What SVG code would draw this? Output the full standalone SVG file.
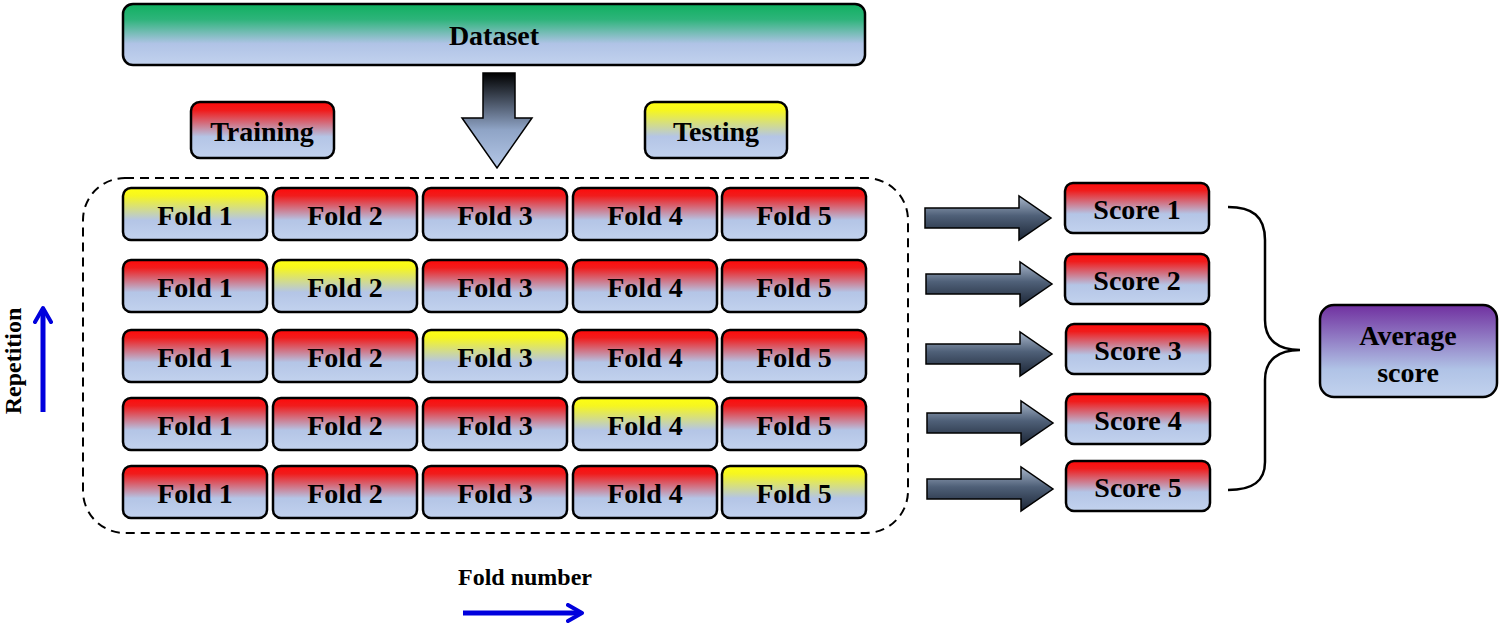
<svg xmlns="http://www.w3.org/2000/svg" width="1500" height="631" viewBox="0 0 1500 631">
<defs>
<linearGradient id="gRed" x1="0" y1="0" x2="0" y2="1">
<stop offset="0" stop-color="#ff0a0a"/><stop offset="0.15" stop-color="#f01c1c"/><stop offset="0.62" stop-color="#b4c5e6"/><stop offset="1" stop-color="#c2d2ee"/>
</linearGradient>
<linearGradient id="gYel" x1="0" y1="0" x2="0" y2="1">
<stop offset="0" stop-color="#ffff10"/><stop offset="0.15" stop-color="#f6f620"/><stop offset="0.62" stop-color="#b4c5e6"/><stop offset="1" stop-color="#c2d2ee"/>
</linearGradient>
<linearGradient id="gGreen" x1="0" y1="0" x2="0" y2="1">
<stop offset="0" stop-color="#10b060"/><stop offset="0.25" stop-color="#2db47a"/><stop offset="0.65" stop-color="#b0c3e6"/><stop offset="1" stop-color="#c2d2ee"/>
</linearGradient>
<linearGradient id="gPurple" x1="0" y1="0" x2="0" y2="1">
<stop offset="0" stop-color="#7030a0"/><stop offset="0.7" stop-color="#b0c3e6"/><stop offset="1" stop-color="#c2d2ee"/>
</linearGradient>
<linearGradient id="gDown" x1="0" y1="0" x2="0" y2="1">
<stop offset="0" stop-color="#000000"/><stop offset="0.6" stop-color="#8fa4c6"/><stop offset="1" stop-color="#b4c7e7"/>
</linearGradient>
<linearGradient id="gRight" x1="0" y1="0" x2="0" y2="1">
<stop offset="0" stop-color="#a9b7cb"/><stop offset="0.45" stop-color="#4f6078"/><stop offset="1" stop-color="#1c2636"/>
</linearGradient>
<marker id="blueHead" viewBox="0 0 10 10" refX="7" refY="5" markerWidth="4" markerHeight="4" orient="auto">
<path d="M1,1 L8,5 L1,9" fill="none" stroke="#0000dd" stroke-width="2" stroke-linecap="round" stroke-linejoin="round"/>
</marker>
</defs>
<style>
.box{stroke:#000;stroke-width:2.5}
.red{fill:url(#gRed)}
.yel{fill:url(#gYel)}
.t{font-family:"Liberation Serif","Times New Roman",serif;font-weight:bold;font-size:28px;fill:#000;text-anchor:middle}
.s{font-size:24px}
.arr{fill:url(#gRight);stroke:#000;stroke-width:1.5}
.blue{stroke:#0000dd;stroke-width:5;fill:none;marker-end:url(#blueHead)}
</style>
<rect width="1500" height="631" fill="#fff"/>

<g id="dataset">
<rect class="box" x="123" y="4" width="742" height="61" rx="10" fill="url(#gGreen)"/>
<text class="t" x="494" y="45">Dataset</text>
</g>
<g id="training">
<rect class="box red" x="191" y="102" width="143" height="56" rx="9"/>
<text class="t" x="262" y="141">Training</text>
</g>
<g id="testing">
<rect class="box yel" x="645" y="102" width="142" height="56" rx="9"/>
<text class="t" x="716" y="141">Testing</text>
</g>

<g id="folds-frame">
<rect x="83" y="178" width="825" height="355" rx="42" fill="none" stroke="#000" stroke-width="2" stroke-dasharray="9,6"/>
</g>

<g id="row1">
<rect class="box yel" x="123" y="188" width="144" height="52" rx="8"/><text class="t" x="195" y="225">Fold 1</text>
<rect class="box red" x="273" y="188" width="144" height="52" rx="8"/><text class="t" x="345" y="225">Fold 2</text>
<rect class="box red" x="423" y="188" width="144" height="52" rx="8"/><text class="t" x="495" y="225">Fold 3</text>
<rect class="box red" x="573" y="188" width="144" height="52" rx="8"/><text class="t" x="645" y="225">Fold 4</text>
<rect class="box red" x="722" y="188" width="144" height="52" rx="8"/><text class="t" x="794" y="225">Fold 5</text>
</g>
<g id="row2">
<rect class="box red" x="123" y="260" width="144" height="52" rx="8"/><text class="t" x="195" y="297">Fold 1</text>
<rect class="box yel" x="273" y="260" width="144" height="52" rx="8"/><text class="t" x="345" y="297">Fold 2</text>
<rect class="box red" x="423" y="260" width="144" height="52" rx="8"/><text class="t" x="495" y="297">Fold 3</text>
<rect class="box red" x="573" y="260" width="144" height="52" rx="8"/><text class="t" x="645" y="297">Fold 4</text>
<rect class="box red" x="722" y="260" width="144" height="52" rx="8"/><text class="t" x="794" y="297">Fold 5</text>
</g>
<g id="row3">
<rect class="box red" x="123" y="330" width="144" height="52" rx="8"/><text class="t" x="195" y="367">Fold 1</text>
<rect class="box red" x="273" y="330" width="144" height="52" rx="8"/><text class="t" x="345" y="367">Fold 2</text>
<rect class="box yel" x="423" y="330" width="144" height="52" rx="8"/><text class="t" x="495" y="367">Fold 3</text>
<rect class="box red" x="573" y="330" width="144" height="52" rx="8"/><text class="t" x="645" y="367">Fold 4</text>
<rect class="box red" x="722" y="330" width="144" height="52" rx="8"/><text class="t" x="794" y="367">Fold 5</text>
</g>
<g id="row4">
<rect class="box red" x="123" y="398" width="144" height="52" rx="8"/><text class="t" x="195" y="435">Fold 1</text>
<rect class="box red" x="273" y="398" width="144" height="52" rx="8"/><text class="t" x="345" y="435">Fold 2</text>
<rect class="box red" x="423" y="398" width="144" height="52" rx="8"/><text class="t" x="495" y="435">Fold 3</text>
<rect class="box yel" x="573" y="398" width="144" height="52" rx="8"/><text class="t" x="645" y="435">Fold 4</text>
<rect class="box red" x="722" y="398" width="144" height="52" rx="8"/><text class="t" x="794" y="435">Fold 5</text>
</g>
<g id="row5">
<rect class="box red" x="123" y="466" width="144" height="52" rx="8"/><text class="t" x="195" y="503">Fold 1</text>
<rect class="box red" x="273" y="466" width="144" height="52" rx="8"/><text class="t" x="345" y="503">Fold 2</text>
<rect class="box red" x="423" y="466" width="144" height="52" rx="8"/><text class="t" x="495" y="503">Fold 3</text>
<rect class="box red" x="573" y="466" width="144" height="52" rx="8"/><text class="t" x="645" y="503">Fold 4</text>
<rect class="box yel" x="722" y="466" width="144" height="52" rx="8"/><text class="t" x="794" y="503">Fold 5</text>
</g>

<g id="score1"><rect class="box red" x="1065" y="183" width="144" height="50" rx="8"/><text class="t" x="1137" y="219">Score 1</text></g>
<g id="score2"><rect class="box red" x="1065" y="254" width="144" height="50" rx="8"/><text class="t" x="1137" y="290">Score 2</text></g>
<g id="score3"><rect class="box red" x="1066" y="324" width="144" height="50" rx="8"/><text class="t" x="1138" y="360">Score 3</text></g>
<g id="score4"><rect class="box red" x="1066" y="394" width="144" height="50" rx="8"/><text class="t" x="1138" y="430">Score 4</text></g>
<g id="score5"><rect class="box red" x="1066" y="461" width="144" height="50" rx="8"/><text class="t" x="1138" y="497">Score 5</text></g>

<g id="average">
<rect class="box" x="1320" y="305" width="177" height="92" rx="14" fill="url(#gPurple)"/>
<text class="t" x="1408" y="345">Average</text>
<text class="t" x="1408" y="382">score</text>
</g>

<g id="connectors">
<path d="M483,73 H515 V118 H532 L497,168 L462,118 H483 Z" fill="url(#gDown)" stroke="#000" stroke-width="1.5"/>
<path class="arr" d="M925,208 H1019 V196 L1051,218 L1019,240 V228 H925 Z"/>
<path class="arr" d="M926,274 H1020 V262 L1052,284 L1020,306 V294 H926 Z"/>
<path class="arr" d="M926,344 H1020 V332 L1052,354 L1020,376 V364 H926 Z"/>
<path class="arr" d="M927,413 H1021 V401 L1053,423 L1021,445 V433 H927 Z"/>
<path class="arr" d="M927,479 H1021 V467 L1053,489 L1021,511 V499 H927 Z"/>
<path d="M1228,207 C1252,207 1265,216 1265,240 L1265,320 C1265,340 1278,350 1300,350 C1278,350 1265,360 1265,380 L1265,462 C1265,482 1252,490 1228,490" fill="none" stroke="#000" stroke-width="2.5"/>
</g>

<g id="axes">
<line class="blue" x1="43" y1="412" x2="43" y2="310"/>
<text class="t s" transform="translate(21,361) rotate(-90)">Repetition</text>
<text class="t s" x="525" y="585">Fold number</text>
<line class="blue" x1="463" y1="613" x2="580" y2="613"/>
</g>
</svg>
